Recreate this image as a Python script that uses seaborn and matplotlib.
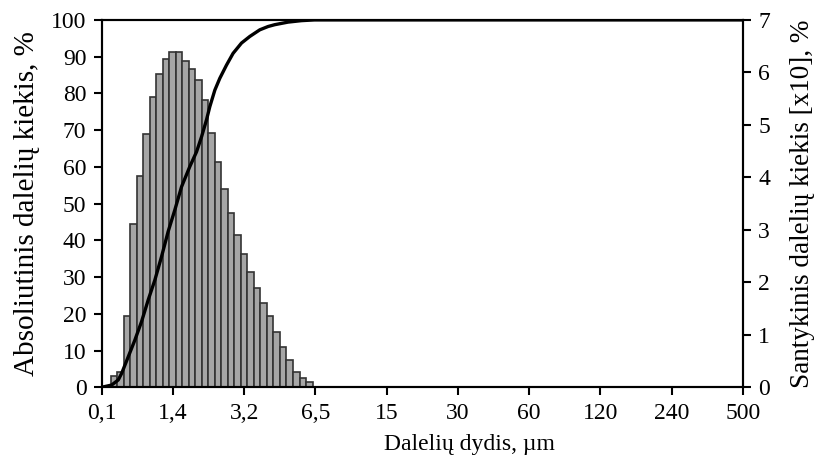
import numpy as np
import matplotlib.pyplot as plt
import seaborn as sns

sns.set_theme(style="ticks")
plt.rcParams['font.family'] = ['Liberation Serif', 'DejaVu Serif']
plt.rcParams.update({"text.color": "black", "axes.labelcolor": "black",
                     "xtick.color": "black", "ytick.color": "black"})

# relative amount per size class (right axis, [x10] %)
rel_amount = [0.21, 0.30, 1.36, 3.12, 4.03, 4.82, 5.53, 5.97, 6.25, 6.38, 6.38,
              6.21, 6.07, 5.85, 5.47, 4.85, 4.30, 3.77, 3.32, 2.91, 2.53, 2.20,
              1.89, 1.61, 1.36, 1.05, 0.77, 0.51, 0.30, 0.18, 0.10]
# cumulative curve (left axis, %), x in size-class units
cum_x = [-1.38, 0.15, 1.17, 1.69, 2.70, 3.73, 4.75, 5.77, 6.79, 7.82, 8.83,
         9.86, 10.89, 12.16, 13.19, 13.96, 14.72, 15.23, 16.0, 16.76, 17.79,
         18.8, 20.09, 21.37, 22.9, 24.17, 25.2, 27.24, 29.3, 31.3, 97.1]
cum_y = [0, 0.6, 2.0, 3.8, 8.3, 12.9, 17.9, 23.8, 29.2, 35.6, 42.4,
         48.3, 54.6, 60.1, 64.1, 68.2, 72.8, 76.4, 80.9, 84.1, 87.7,
         90.9, 93.7, 95.5, 97.3, 98.2, 98.7, 99.4, 99.8, 100, 100]
tick_labels = ["0,1", "1,4", "3,2", "6,5", "15", "30", "60", "120", "240", "500"]

fig = plt.figure(figsize=(8.16, 4.74), dpi=100)
ax = fig.add_axes([0.1246, 0.183, 0.7859, 0.775])
ax2 = ax.twinx()

centers = np.arange(len(rel_amount)) + 0.5
sns.barplot(x=centers, y=rel_amount, native_scale=True, width=1, errorbar=None,
            color="#a6a6a6", saturation=1, edgecolor="#333333", linewidth=1.2, ax=ax2)
sns.lineplot(x=cum_x, y=cum_y, color="black", linewidth=2.4, ax=ax)

# curve above the bars
ax.set_zorder(ax2.get_zorder() + 1)
ax.patch.set_visible(False)

xmin, xmax = -1.38, 97.1
ax.set_xlim(xmin, xmax)
ax.set_xticks(np.linspace(xmin, xmax, len(tick_labels)))
ax.set_xticklabels(tick_labels)
ax.set_ylim(0, 100)
ax.set_yticks(range(0, 101, 10))
ax2.set_ylim(0, 7)
ax2.set_yticks(range(0, 8))

ax.set_xlabel("Dalelių dydis, µm", fontsize=17)
ax.xaxis.set_label_coords(0.574, -0.128)
ax.set_ylabel("Absoliutinis dalelių kiekis, %", fontsize=21, labelpad=8)
ax2.set_ylabel("Santykinis dalelių kiekis [x10], %", fontsize=19.5, labelpad=14)
for a in (ax, ax2):
    a.tick_params(labelsize=17, length=6, width=1.5, direction="out", color="black", pad=5)
    for s in a.spines.values():
        s.set_linewidth(1.5)
        s.set_color("black")
        s.set_visible(True)

fig.savefig("out.png", dpi=100)
